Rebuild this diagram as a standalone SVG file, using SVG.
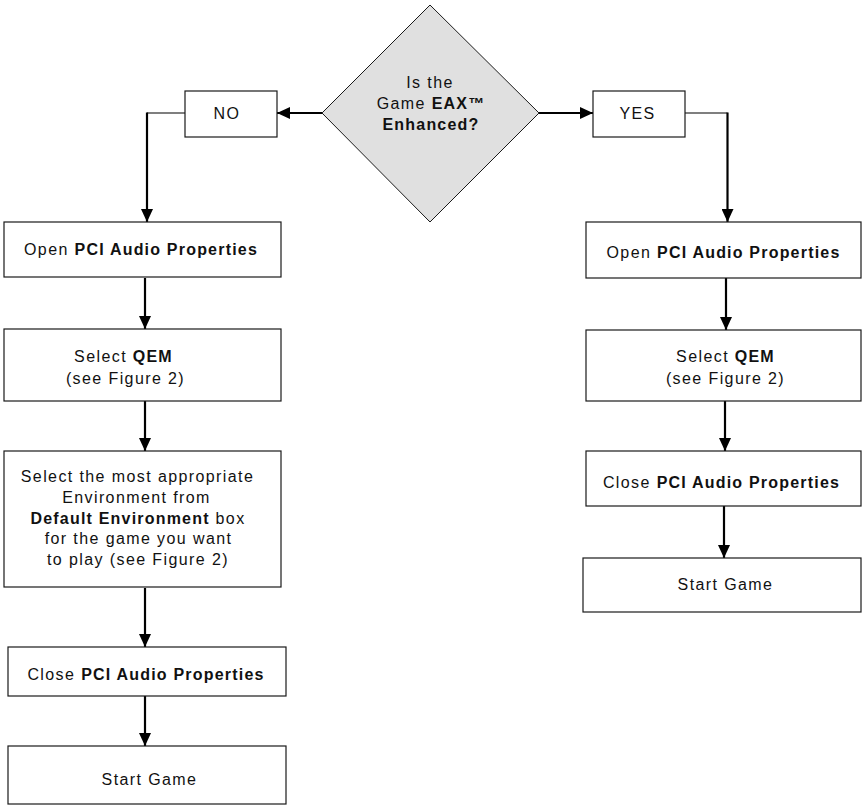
<svg xmlns="http://www.w3.org/2000/svg" width="862" height="806" viewBox="0 0 862 806">
<style>
  .box { fill: #ffffff; stroke: #1a1a1a; stroke-width: 1.2; }
  .dia { fill: #e0e0e0; stroke: #1a1a1a; stroke-width: 1; }
  .t { font-family: "Liberation Sans", Arial, sans-serif; font-size: 16px; fill: #111111; letter-spacing: 1.4px; text-anchor: middle; }
  .b { font-weight: bold; letter-spacing: 1.2px; }
  .thick { stroke: #000000; stroke-width: 2.2; fill: none; }
  .thin { stroke: #000000; stroke-width: 1.2; fill: none; }
</style>
<defs>
  <marker id="arr" markerUnits="userSpaceOnUse" markerWidth="14" markerHeight="12" refX="13" refY="6" orient="auto">
    <path d="M0,0 L13,6 L0,12 Z" fill="#000000"/>
  </marker>
</defs>
<rect width="862" height="806" fill="#ffffff"/>

<g id="connectors">
  <line class="thick" x1="322" y1="113" x2="277" y2="113" marker-end="url(#arr)"/>
  <polyline class="thin" points="185,113 147,113"/>
  <line class="thick" x1="147" y1="112.5" x2="147" y2="222" marker-end="url(#arr)"/>
  <line class="thick" x1="145" y1="278" x2="145" y2="329" marker-end="url(#arr)"/>
  <line class="thick" x1="145" y1="401" x2="145" y2="451" marker-end="url(#arr)"/>
  <line class="thick" x1="145" y1="588" x2="145" y2="647" marker-end="url(#arr)"/>
  <line class="thick" x1="145" y1="696" x2="145" y2="746" marker-end="url(#arr)"/>

  <line class="thick" x1="539" y1="113" x2="593" y2="113" marker-end="url(#arr)"/>
  <polyline class="thin" points="685,113 727.5,113"/>
  <line class="thick" x1="727.5" y1="112.5" x2="727.5" y2="222" marker-end="url(#arr)"/>
  <line class="thick" x1="726" y1="278" x2="726" y2="330" marker-end="url(#arr)"/>
  <line class="thick" x1="725" y1="401" x2="725" y2="451" marker-end="url(#arr)"/>
  <line class="thick" x1="724" y1="506" x2="724" y2="558" marker-end="url(#arr)"/>
</g>

<g id="decision">
  <polygon class="dia" points="430,5 539,113 430,222 322,113"/>
  <text class="t" x="430" y="88">Is the</text>
  <text class="t" x="431" y="109">Game <tspan class="b">EAX™</tspan></text>
  <text class="t b" x="431" y="130">Enhanced?</text>
</g>

<g id="no">
  <rect class="box" x="185" y="91" width="92" height="46"/>
  <text class="t" x="227" y="118.5">NO</text>
</g>

<g id="yes">
  <rect class="box" x="593" y="91" width="92" height="46"/>
  <text class="t" x="637.5" y="118.5">YES</text>
</g>

<g id="l-open">
  <rect class="box" x="4" y="222" width="277" height="55"/>
  <text class="t" x="141" y="254.5">Open <tspan class="b">PCI Audio Properties</tspan></text>
</g>

<g id="l-qem">
  <rect class="box" x="4" y="329" width="277" height="72"/>
  <text class="t" x="123.5" y="361.5">Select <tspan class="b">QEM</tspan></text>
  <text class="t" x="125.5" y="383.5">(see Figure 2)</text>
</g>

<g id="l-env">
  <rect class="box" x="4" y="451" width="277" height="136"/>
  <text class="t" x="137.5" y="481.5">Select the most appropriate</text>
  <text class="t" x="136.5" y="502.5">Environment from</text>
  <text class="t" x="138" y="523.5"><tspan class="b">Default Environment</tspan> box</text>
  <text class="t" x="138.5" y="544">for the game you want</text>
  <text class="t" x="138" y="565">to play (see Figure 2)</text>
</g>

<g id="l-close">
  <rect class="box" x="8" y="647" width="278" height="49"/>
  <text class="t" x="146" y="679.5">Close <tspan class="b">PCI Audio Properties</tspan></text>
</g>

<g id="l-start">
  <rect class="box" x="8" y="746" width="278" height="58"/>
  <text class="t" x="149.5" y="785">Start Game</text>
</g>

<g id="r-open">
  <rect class="box" x="586" y="222" width="275" height="56"/>
  <text class="t" x="723.5" y="257.5">Open <tspan class="b">PCI Audio Properties</tspan></text>
</g>

<g id="r-qem">
  <rect class="box" x="586" y="330" width="275" height="71"/>
  <text class="t" x="725.5" y="361.5">Select <tspan class="b">QEM</tspan></text>
  <text class="t" x="725.5" y="384">(see Figure 2)</text>
</g>

<g id="r-close">
  <rect class="box" x="586" y="451" width="275" height="55"/>
  <text class="t" x="721.5" y="487.5">Close <tspan class="b">PCI Audio Properties</tspan></text>
</g>

<g id="r-start">
  <rect class="box" x="583" y="558" width="278" height="54"/>
  <text class="t" x="725.5" y="590">Start Game</text>
</g>
</svg>
